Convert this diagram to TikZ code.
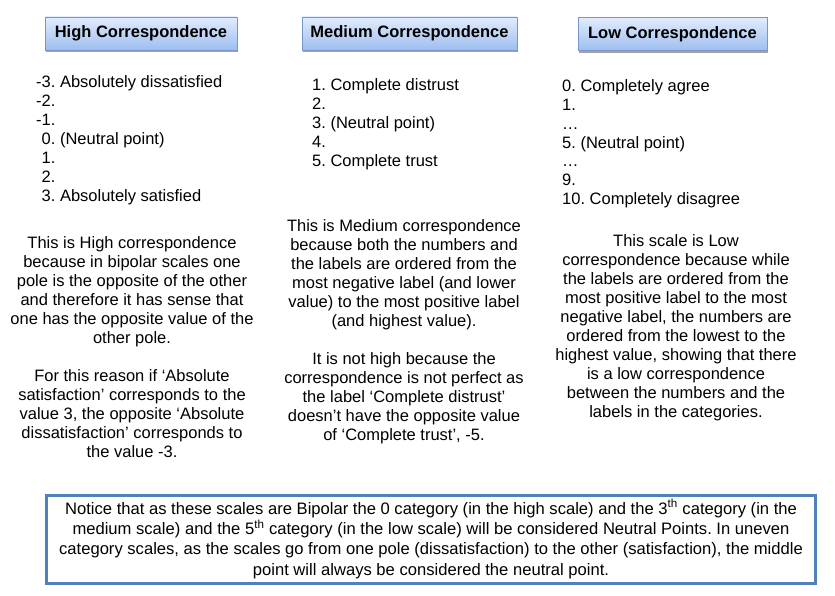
\documentclass[tikz,border=0pt]{standalone}
\usepackage{fontspec}
\setmainfont{Liberation Sans}
\usepackage{tikz}
\usetikzlibrary{shadows}
\definecolor{HeadTop}{RGB}{226,236,253}
\definecolor{HeadBottom}{RGB}{158,190,240}
\definecolor{HeadBorder}{RGB}{120,150,200}
\definecolor{NoteBlue}{RGB}{79,129,189}
\frenchspacing

\begin{document}
\begin{tikzpicture}[
x=1pt, y=-1pt,
txt/.style={inner sep=0pt, font=\fontsize{16.5}{19}\selectfont},
listtxt/.style={txt, align=left, anchor=base west},
para/.style={txt, align=center, anchor=base},
head/.style={draw=HeadBorder, top color=HeadTop, bottom color=HeadBottom, minimum height=33pt, inner sep=0pt, font=\fontsize{16.5}{19}\selectfont\bfseries, drop shadow={shadow xshift=1pt, shadow yshift=-2.5pt, fill=black!45, opacity=0.8}},
note/.style={draw=NoteBlue, line width=3pt, minimum width=769pt, minimum height=88pt, inner sep=0pt, align=center, font=\fontsize{16.6}{20.3}\selectfont}
]
\useasboundingbox (0,0) rectangle (835,596);

% headers
\node[head, minimum width=192pt] (high) at (141,33.5) {High Correspondence};
\node[head, minimum width=215pt] (medium) at (409.5,33.5) {Medium Correspondence};
\node[head, minimum width=189pt] (low) at (672.5,34) {Low Correspondence};

% scales (base = last line)
\node[listtxt] (highlist) at (36,201) {-3. Absolutely dissatisfied\\-2.\\-1.\\\phantom{-}0. (Neutral point)\\\phantom{-}1.\\\phantom{-}2.\\\phantom{-}3. Absolutely satisfied};
\node[listtxt] (mediumlist) at (312,167) {1. Complete distrust\\2.\\3. (Neutral point)\\4.\\5. Complete trust};
\node[listtxt] (lowlist) at (562,205) {0. Completely agree\\1.\\…\\5. (Neutral point)\\…\\9.\\10. Completely disagree};

% explanations
\node[para] (hightext) at (132,457) {This is High correspondence\\because in bipolar scales one\\pole is the opposite of the other\\and therefore it has sense that\\one has the opposite value of the\\other pole.\\[19pt]For this reason if ‘Absolute\\satisfaction’ corresponds to the\\value 3, the opposite ‘Absolute\\dissatisfaction’ corresponds to\\the value -3.};
\node[para] (mediumtext) at (404,440) {This is Medium correspondence\\because both the numbers and\\the labels are ordered from the\\most negative label (and lower\\value) to the most positive label\\(and highest value).\\[19pt]It is not high because the\\correspondence is not perfect as\\the label ‘Complete distrust’\\doesn’t have the opposite value\\of ‘Complete trust’, -5.};
\node[para] (lowtext) at (676,417) {This scale is Low\\correspondence because while\\the labels are ordered from the\\most positive label to the most\\negative label, the numbers are\\ordered from the lowest to the\\highest value, showing that there\\is a low correspondence\\between the numbers and the\\labels in the categories.};

% note
\node[note] (notice) at (431,539) {Notice that as these scales are Bipolar the 0 category (in the high scale) and the 3\textsuperscript{th} category (in the\\medium scale) and the 5\textsuperscript{th} category (in the low scale) will be considered Neutral Points. In uneven\\category scales, as the scales go from one pole (dissatisfaction) to the other (satisfaction), the middle\\point will always be considered the neutral point.};
\end{tikzpicture}
\end{document}
